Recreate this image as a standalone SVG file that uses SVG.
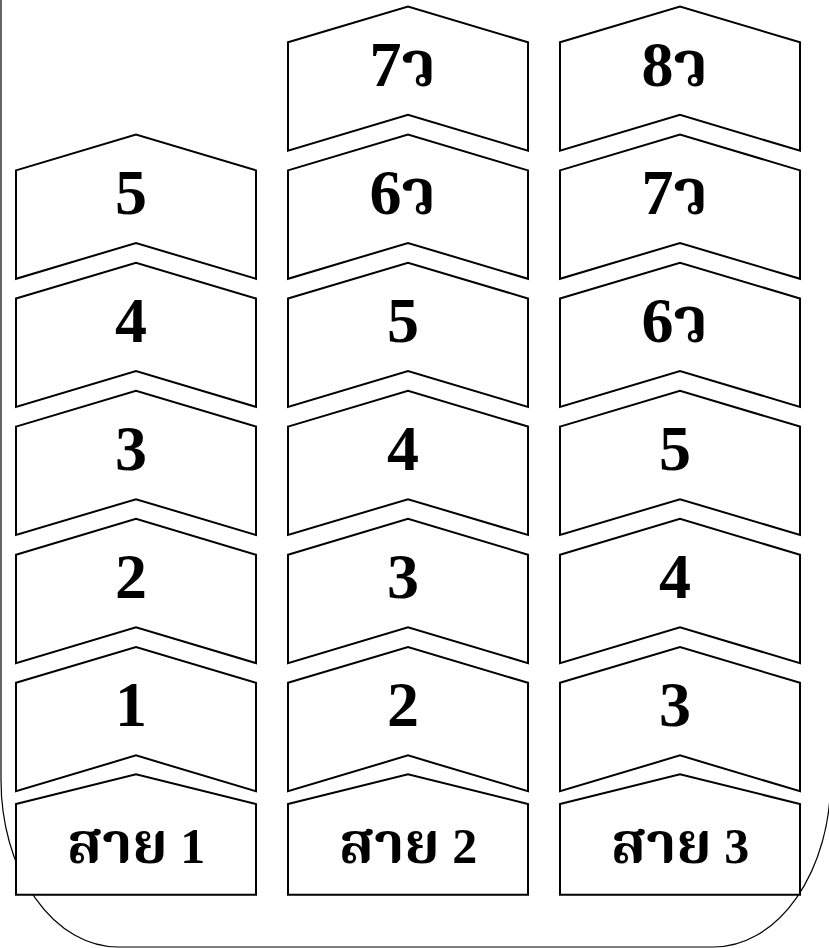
<svg xmlns="http://www.w3.org/2000/svg" width="829" height="948" viewBox="0 0 829 948">
<style>
.shape{fill:#fff;stroke:#000;stroke-width:2;stroke-linejoin:miter}
.frame{fill:none;stroke:#000;stroke-width:1.2}
.num{font-family:"Liberation Serif","Noto Serif Thai","Noto Sans Thai","Tlwg Typo",serif;font-weight:bold;font-size:64px;text-anchor:middle;fill:#000}
.lab{font-family:"Liberation Serif","Noto Serif Thai","Noto Sans Thai","Tlwg Typo",serif;font-weight:bold;font-size:50px;text-anchor:middle;fill:#000}
.th{font-size:57px}
</style>
<defs>
<path id="chev" d="M0,0 L120,-35.8 L240,0 L240,108.4 L120,72.6 L0,108.4 Z"/>
<path id="base" d="M0,0 L120,-29.7 L240,0 L240,90.7 L0,90.7 Z"/>
</defs>
<rect width="829" height="948" fill="#fff"/>
<g id="frame">
<path class="frame" d="M1,-5 V780 A117,167 0 0 0 118,947 H713.6 A117,167 0 0 0 830.6,780 V-5"/>
</g>
<g id="col1">
<g id="c1r1"><use href="#chev" class="shape" x="16" y="170.4"/><text class="num" x="131" y="214">5</text></g>
<g id="c1r2"><use href="#chev" class="shape" x="16" y="298.5"/><text class="num" x="131" y="342">4</text></g>
<g id="c1r3"><use href="#chev" class="shape" x="16" y="426.6"/><text class="num" x="131" y="470">3</text></g>
<g id="c1r4"><use href="#chev" class="shape" x="16" y="554.7"/><text class="num" x="131" y="598">2</text></g>
<g id="c1r5"><use href="#chev" class="shape" x="16" y="682.8"/><text class="num" x="131" y="726">1</text></g>
<g id="c1base"><use href="#base" class="shape" x="16" y="804"/><text class="lab" x="136" y="863"><tspan class="th">สาย</tspan> 1</text></g>
</g>
<g id="col2">
<g id="c2r0"><use href="#chev" class="shape" x="288" y="42.3"/><text class="num" x="403" y="85.5">7ว</text></g>
<g id="c2r1"><use href="#chev" class="shape" x="288" y="170.4"/><text class="num" x="403" y="214">6ว</text></g>
<g id="c2r2"><use href="#chev" class="shape" x="288" y="298.5"/><text class="num" x="403" y="342">5</text></g>
<g id="c2r3"><use href="#chev" class="shape" x="288" y="426.6"/><text class="num" x="403" y="470">4</text></g>
<g id="c2r4"><use href="#chev" class="shape" x="288" y="554.7"/><text class="num" x="403" y="598">3</text></g>
<g id="c2r5"><use href="#chev" class="shape" x="288" y="682.8"/><text class="num" x="403" y="726">2</text></g>
<g id="c2base"><use href="#base" class="shape" x="288" y="804"/><text class="lab" x="408" y="863"><tspan class="th">สาย</tspan> 2</text></g>
</g>
<g id="col3">
<g id="c3r0"><use href="#chev" class="shape" x="560" y="42.3"/><text class="num" x="675" y="85.5">8ว</text></g>
<g id="c3r1"><use href="#chev" class="shape" x="560" y="170.4"/><text class="num" x="675" y="214">7ว</text></g>
<g id="c3r2"><use href="#chev" class="shape" x="560" y="298.5"/><text class="num" x="675" y="342">6ว</text></g>
<g id="c3r3"><use href="#chev" class="shape" x="560" y="426.6"/><text class="num" x="675" y="470">5</text></g>
<g id="c3r4"><use href="#chev" class="shape" x="560" y="554.7"/><text class="num" x="675" y="598">4</text></g>
<g id="c3r5"><use href="#chev" class="shape" x="560" y="682.8"/><text class="num" x="675" y="726">3</text></g>
<g id="c3base"><use href="#base" class="shape" x="560" y="804"/><text class="lab" x="680" y="863"><tspan class="th">สาย</tspan> 3</text></g>
</g>
</svg>
